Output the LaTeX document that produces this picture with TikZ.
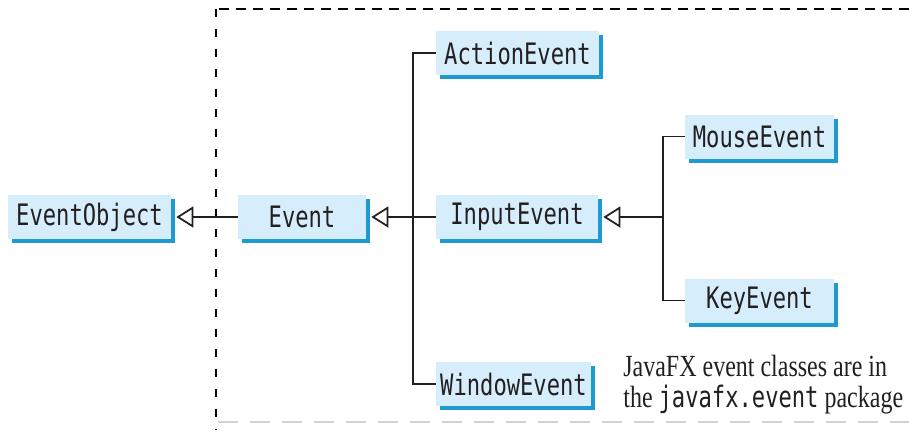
\documentclass[tikz,border=0pt]{standalone}
\usepackage{fontspec}
\newfontfamily\boxfont{DejaVu Sans Mono}[FakeStretch=0.75]
\newfontfamily\capfont{Liberation Serif}[FakeStretch=0.78]
\usetikzlibrary{arrows.meta, shadows}

\definecolor{boxblue}{HTML}{D6EEFB}
\definecolor{shadowblue}{HTML}{1D9AD2}
\definecolor{textdark}{HTML}{231F20}

\tikzset{
  cls/.style={fill=boxblue, text=textdark, inner xsep=2pt, minimum height=0.88cm,
    font=\boxfont\fontsize{16.8}{17}\selectfont,
    general shadow={shadow xshift=0.08cm, shadow yshift=-0.08cm, fill=shadowblue}},
  link/.style={line width=1pt, textdark},
  inherit/.style={link, -{Triangle[open, length=0.34cm, width=0.42cm]}},
  pkgline/.style={line width=1pt, dash pattern=on 0.2cm off 0.14cm}
}

\begin{document}
\begin{tikzpicture}[x=0.02cm, y=-0.02cm]
    \useasboundingbox (0,0) rectangle (909,430);

    \draw[pkgline] (909,9) -- (216,9);
    \draw[pkgline, dash pattern=on 0.16cm off 0.24cm] (216,9) -- (216,430);
    \draw[gray!35, line width=0.8pt, dash pattern=on 0.4cm off 0.24cm] (218,422) -- (909,422);

    \node[cls, minimum width=3.26cm] (eo) at (89.5,217) {EventObject};
    \node[cls, minimum width=2.56cm] (ev) at (302,217) {Event};
    \node[cls, minimum width=3.26cm] (ae) at (517.5,53) {ActionEvent};
    \node[cls, minimum width=3.24cm] (ie) at (517,217) {InputEvent};
    \node[cls, minimum width=3.10cm] (we) at (513.5,384) {WindowEvent};
    \node[cls, minimum width=2.98cm] (me) at (759.5,136.5) {MouseEvent};
    \node[cls, minimum width=2.98cm] (ke) at (759.5,300.5) {KeyEvent};

    \coordinate (j1) at (413,217);
    \coordinate (j2) at (663,217);

    \draw[inherit] (ev.west) -- ([xshift=0.1cm]eo.east);
    \draw[inherit] (ie.west) -- ([xshift=0.1cm]ev.east);
    \draw[inherit] (j2) -- ([xshift=0.1cm]ie.east);
    \draw[link] (ae.west) -- (ae.west -| j1) -- (we.west -| j1) -- (we.west);
    \draw[link] (me.west) -- (me.west -| j2) -- (ke.west -| j2) -- (ke.west);

    \node[anchor=base west, align=left, inner sep=0pt, text=textdark,
      font=\capfont\fontsize{17.5}{17.6}\selectfont] (note) at (623,407)
      {JavaFX event classes are in\\the {\boxfont\fontsize{16.8}{17}\selectfont javafx.event} package};
  \end{tikzpicture}
\end{document}
